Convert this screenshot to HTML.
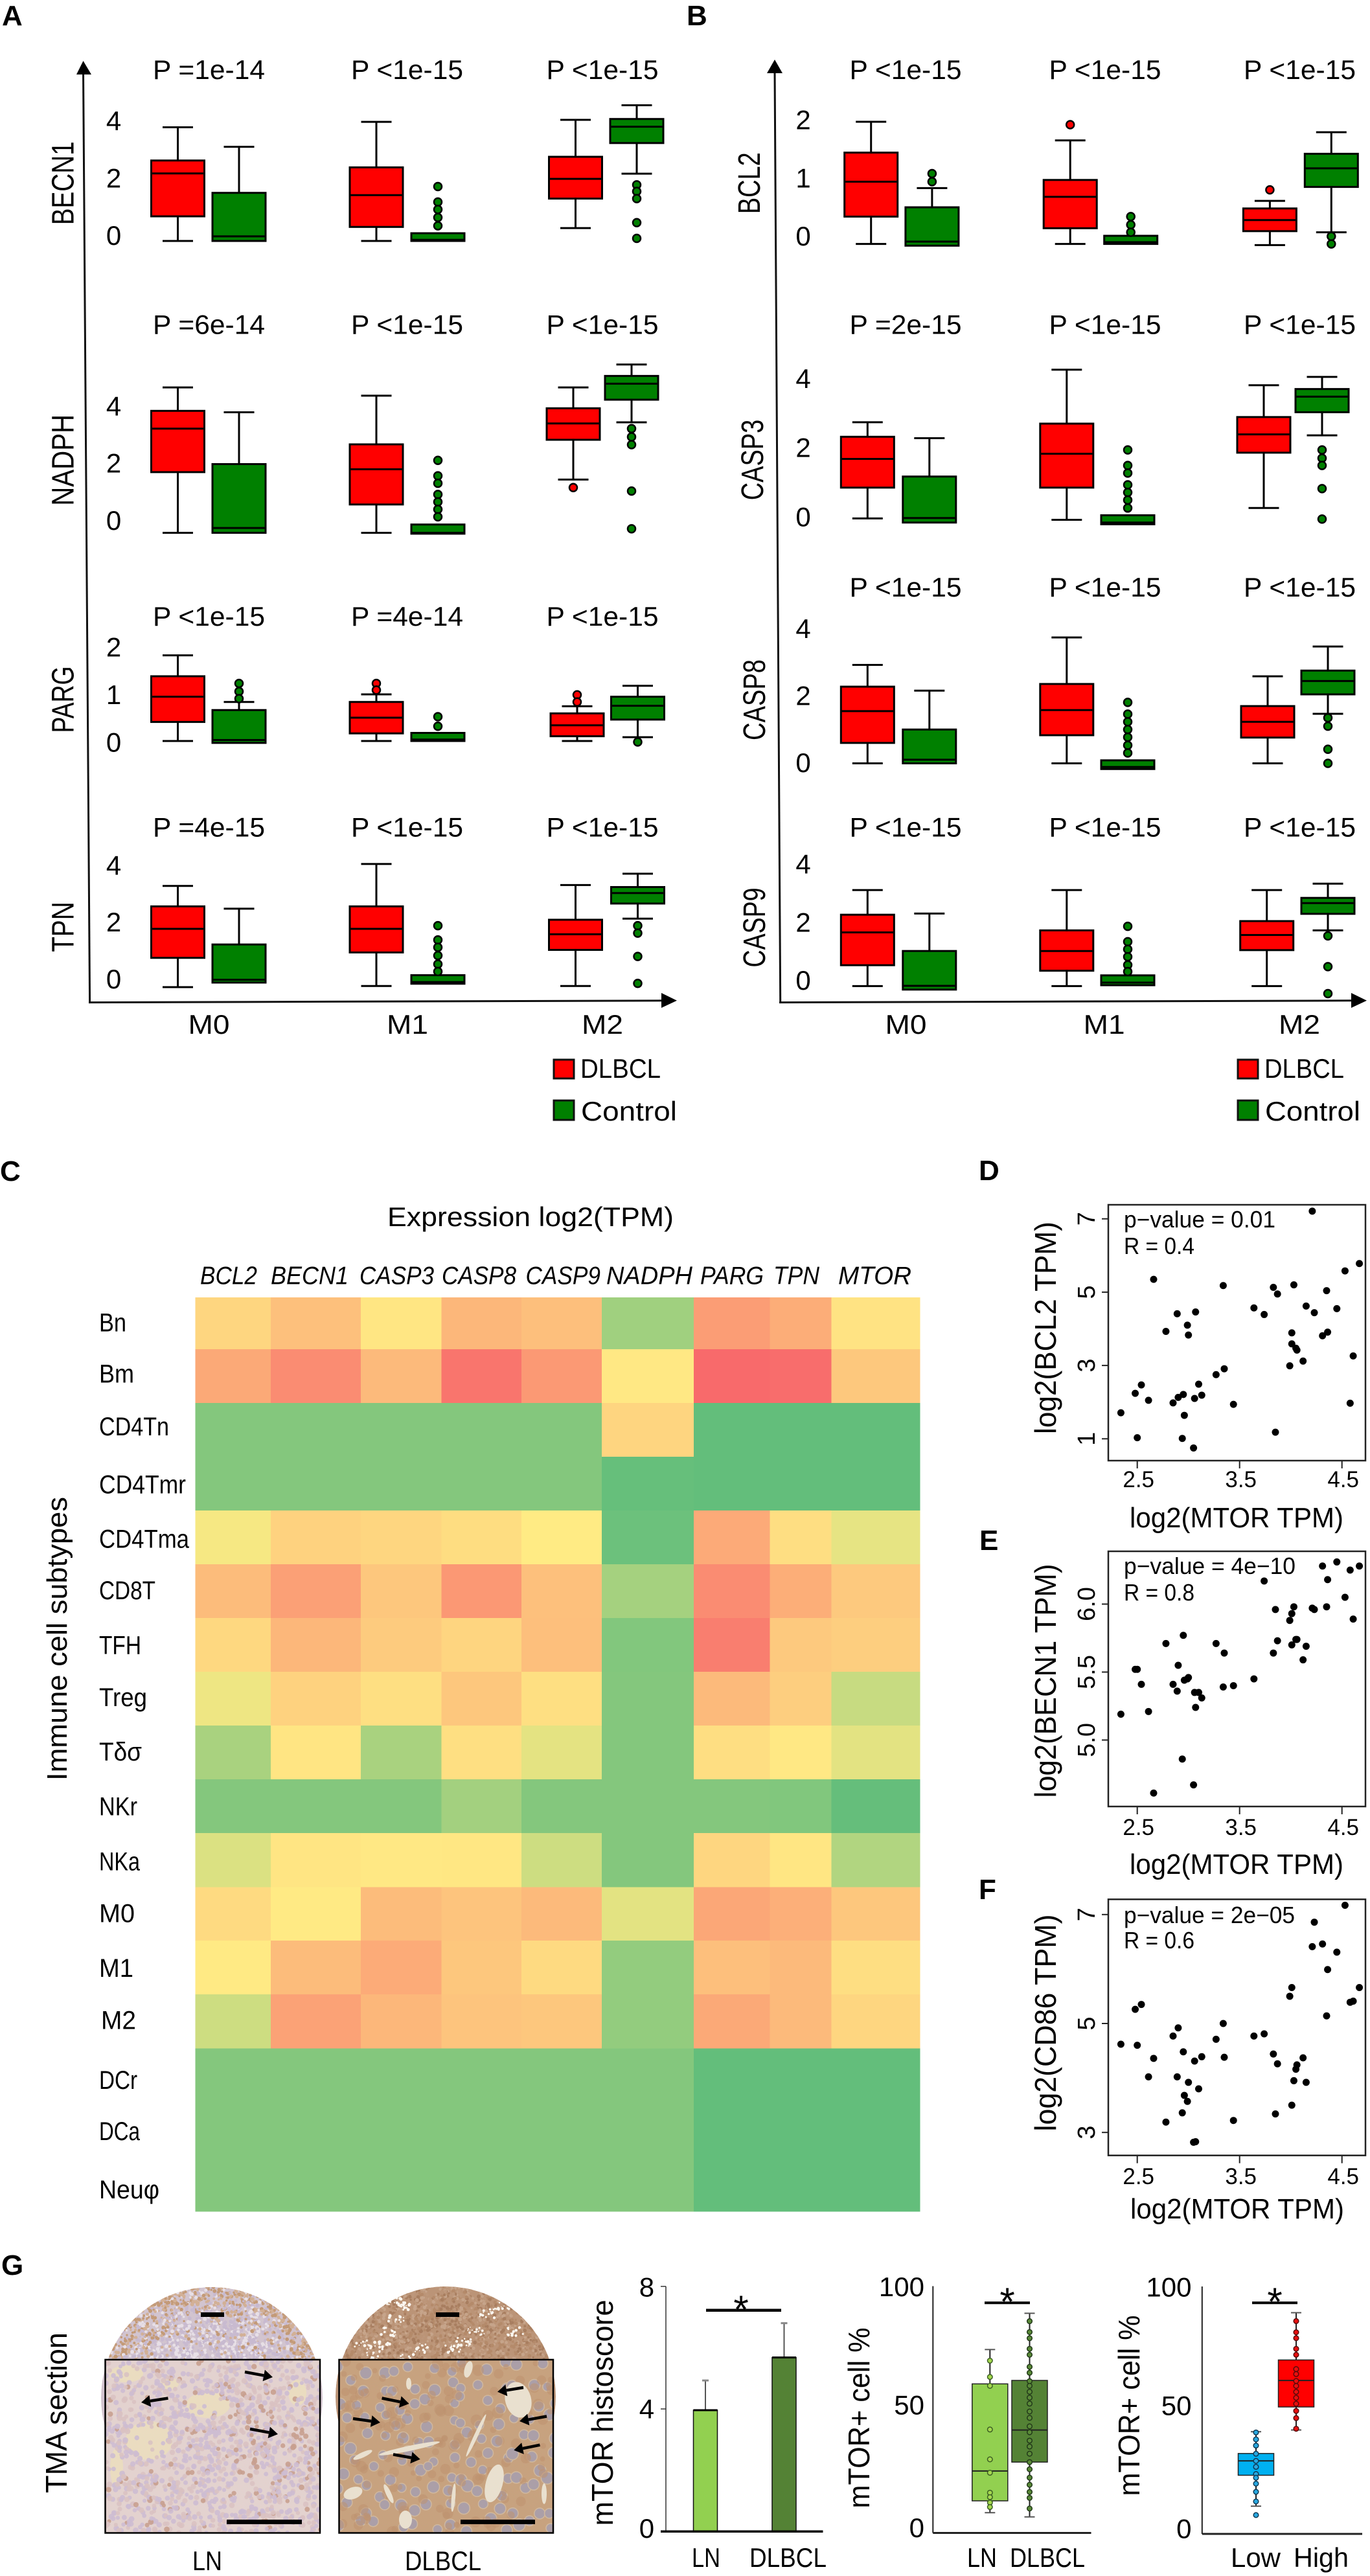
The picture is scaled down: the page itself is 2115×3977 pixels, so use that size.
<!DOCTYPE html>
<html lang="en">
<head>
<meta charset="utf-8">
<title>mTOR expression in DLBCL</title>
<style>
html,body{margin:0;padding:0;background:#fff}
svg{display:block;font-family:"Liberation Sans",sans-serif}
text{fill:#000}
</style>
</head>
<body>
<svg id="fig" xmlns="http://www.w3.org/2000/svg" width="2115" height="3977" viewBox="0 0 2115 3977">
<rect width="2115" height="3977" fill="#fff"/>
<g font-weight="bold" font-size="44">
<text x="3" y="39">A</text>
<text x="1060" y="39">B</text>
<text x="0" y="1823">C</text>
<text x="1511" y="1822">D</text>
<text x="1512" y="2393">E</text>
<text x="1511" y="2932">F</text>
<text x="2" y="3512">G</text>
</g>
<g>
<line x1="128.5" y1="110" x2="138.6" y2="1547.6" stroke="#111" stroke-width="3"/>
<polygon points="128.5,94 118,115 141,115" fill="#000"/>
<line x1="137" y1="1547.6" x2="1025" y2="1544.8" stroke="#111" stroke-width="3"/>
<polygon points="1045,1544.8 1021,1533 1021,1556" fill="#000"/>
</g>
<g>
<line x1="1196" y1="108" x2="1204.7" y2="1547.6" stroke="#111" stroke-width="3"/>
<polygon points="1196,92 1184,113 1208,113" fill="#000"/>
<line x1="1203" y1="1547.6" x2="2090" y2="1544.8" stroke="#111" stroke-width="3"/>
<polygon points="2110,1544.8 2086,1533 2086,1556" fill="#000"/>
</g>
<g>
<rect x="855" y="1636" width="31" height="29" fill="#f00" stroke="#111" stroke-width="3"/>
<text x="896" y="1664" font-size="42" textLength="124" lengthAdjust="spacingAndGlyphs">DLBCL</text>
<rect x="855" y="1699" width="31" height="30" fill="#008000" stroke="#111" stroke-width="3"/>
<text x="897" y="1730" font-size="42" textLength="148" lengthAdjust="spacingAndGlyphs">Control</text>
</g>
<g>
<rect x="1911" y="1636" width="31" height="29" fill="#f00" stroke="#111" stroke-width="3"/>
<text x="1952" y="1664" font-size="42" textLength="123" lengthAdjust="spacingAndGlyphs">DLBCL</text>
<rect x="1911" y="1699" width="31" height="30" fill="#008000" stroke="#111" stroke-width="3"/>
<text x="1953" y="1730" font-size="42" textLength="147" lengthAdjust="spacingAndGlyphs">Control</text>
</g>
<text x="598" y="1893" font-size="42" textLength="442" lengthAdjust="spacingAndGlyphs">Expression log2(TPM)</text>
<text transform="translate(103 2530) rotate(-90)" text-anchor="middle" font-size="44" textLength="438" lengthAdjust="spacingAndGlyphs">Immune cell subtypes</text>
<g>
<text x="1735" y="1895" font-size="36" textLength="234" lengthAdjust="spacingAndGlyphs">p−value = 0.01</text>
<text x="1735" y="1936" font-size="36" textLength="109" lengthAdjust="spacingAndGlyphs">R = 0.4</text>
<text x="1735" y="2430" font-size="36" textLength="265" lengthAdjust="spacingAndGlyphs">p−value = 4e−10</text>
<text x="1735" y="2471" font-size="36" textLength="109" lengthAdjust="spacingAndGlyphs">R = 0.8</text>
<text x="1735" y="2969" font-size="36" textLength="264" lengthAdjust="spacingAndGlyphs">p−value = 2e−05</text>
<text x="1735" y="3008" font-size="36" textLength="109" lengthAdjust="spacingAndGlyphs">R = 0.6</text>
<text x="1744" y="2358" font-size="44" textLength="330" lengthAdjust="spacingAndGlyphs">log2(MTOR TPM)</text>
<text x="1744" y="2893" font-size="44" textLength="330" lengthAdjust="spacingAndGlyphs">log2(MTOR TPM)</text>
<text x="1745" y="3425" font-size="44" textLength="330" lengthAdjust="spacingAndGlyphs">log2(MTOR TPM)</text>
<text transform="translate(1630 2050) rotate(-90)" text-anchor="middle" font-size="46" textLength="328" lengthAdjust="spacingAndGlyphs">log2(BCL2 TPM)</text>
<text transform="translate(1630 2595) rotate(-90)" text-anchor="middle" font-size="46" textLength="361" lengthAdjust="spacingAndGlyphs">log2(BECN1 TPM)</text>
<text transform="translate(1630 3123) rotate(-90)" text-anchor="middle" font-size="46" textLength="335" lengthAdjust="spacingAndGlyphs">log2(CD86 TPM)</text>
</g>
<g id="tma"></g>
<g>
<text transform="translate(103 3725) rotate(-90)" text-anchor="middle" font-size="46" textLength="248" lengthAdjust="spacingAndGlyphs">TMA section</text>
<text x="297" y="3968" font-size="42" textLength="46" lengthAdjust="spacingAndGlyphs">LN</text>
<text x="625" y="3968" font-size="42" textLength="118" lengthAdjust="spacingAndGlyphs">DLBCL</text>
<text transform="translate(946 3725) rotate(-90)" text-anchor="middle" font-size="46" textLength="349" lengthAdjust="spacingAndGlyphs">mTOR histoscore</text>
<text transform="translate(1342 3733) rotate(-90)" text-anchor="middle" font-size="46" textLength="279" lengthAdjust="spacingAndGlyphs">mTOR+ cell %</text>
<text transform="translate(1759 3714) rotate(-90)" text-anchor="middle" font-size="46" textLength="279" lengthAdjust="spacingAndGlyphs">mTOR+ cell %</text>
</g>
</svg>
<script>
/* ---------- Panels A / B box plot data: [min, q1, median, q3, max] per slot (M0 DLBCL, M0 Control, M1 DLBCL, M1 Control, M2 DLBCL, M2 Control) ---------- */
const boxGroups = ['M0','M1','M2'];
const boxSeries = ['DLBCL','Control'];

const statsBECN1 = [[0,.86,2.36,2.81,3.97],[0,0,.16,1.68,3.29],[0,.49,1.6,2.57,4.16],[0,0,.04,.27,.27],[.45,1.48,2.17,2.94,4.23],[2.35,3.42,3.99,4.26,4.74]];
const outliersBECN1 = [[],[],[],[1.9,1.36,1.1,.82,.53],[],[1.96,1.73,1.48,.64,.09]];
const ticksBECN1 = [0,2,4];
const pBECN1 = ['P =1e-14','P <1e-15','P <1e-15'];

const statsNADPH = [[0,2.12,3.64,4.26,5.08],[0,0,.17,2.4,4.21],[0,.99,2.22,3.09,4.79],[0,-.03,0,.29,.29],[1.86,3.25,3.82,4.35,5.08],[3.86,4.65,5.21,5.48,5.88]];
const outliersNADPH = [[],[],[],[2.53,1.99,1.73,1.34,1.08,.82,.56],[1.58],[3.64,3.35,3.08,1.46,.14]];
const ticksNADPH = [0,2,4];
const pNADPH = ['P =6e-14','P <1e-15','P <1e-15'];

const statsPARG = [[0,.4,.93,1.36,1.8],[-.04,-.04,.02,.65,.82],[0,.16,.49,.82,.98],[0,0,.03,.17,.17],[0,.1,.33,.58,.73],[.08,.45,.74,.93,1.16]];
const outliersPARG = [[],[1.21,1.04,.89],[1.21,1.07],[.51,.31],[.97,.82],[-.02]];
const ticksPARG = [0,1,2];
const pPARG = ['P <1e-15','P =4e-14','P <1e-15'];

const statsTPN = [[0,1.03,2.05,2.84,3.56],[.16,.16,.26,1.5,2.76],[.04,1.22,2.05,2.84,4.33],[.12,.12,.18,.42,.42],[.04,1.31,1.86,2.37,3.59],[2.41,2.94,3.31,3.52,3.99]];
const outliersTPN = [[],[],[],[2.16,1.66,1.4,1.11,.81,.55],[],[2.16,1.9,1.08,.13]];
const ticksTPN = [0,2,4];
const pTPN = ['P =4e-15','P <1e-15','P <1e-15'];

const statsBCL2 = [[0,.47,1.07,1.57,2.1],[-.03,-.03,.04,.63,.96],[0,.27,.81,1.1,1.78],[0,0,.03,.14,.14],[-.02,.22,.41,.61,.74],[.2,.98,1.3,1.55,1.92]];
const outliersBCL2 = [[],[1.21,1.07],[2.05],[.47,.33,.2],[.93],[.13,0]];
const ticksBCL2 = [0,1,2];
const pBCL2 = ['P <1e-15','P <1e-15','P <1e-15'];

const statsCASP3 = [[.02,.91,1.74,2.38,2.8],[-.1,-.1,.03,1.23,2.34],[-.02,.91,1.89,2.76,4.32],[-.15,-.15,-.1,.11,.11],[.32,1.92,2.45,2.95,3.87],[2.42,3.09,3.54,3.76,4.11]];
const outliersCASP3 = [[],[],[],[2,1.55,1.33,.99,.77,.55,.32],[],[2,1.76,1.55,.88,0]];
const ticksCASP3 = [0,2,4];
const pCASP3 = ['P =2e-15','P <1e-15','P <1e-15'];

const statsCASP8 = [[0,.61,1.56,2.29,2.94],[0,0,.11,1.01,2.17],[0,.84,1.59,2.37,3.76],[-.17,-.17,-.11,.09,.09],[0,.77,1.24,1.71,2.6],[1.48,2.06,2.46,2.77,3.49]];
const outliersCASP8 = [[],[],[],[1.82,1.47,1.24,1.01,.78,.54,.31],[],[1.36,1.11,.42,0]];
const ticksCASP8 = [0,2,4];
const pCASP8 = ['P <1e-15','P <1e-15','P <1e-15'];

const statsCASP9 = [[0,.72,1.85,2.46,3.31],[-.12,-.12,.01,1.21,2.5],[0,.53,1.21,1.92,3.31],[.03,.03,.12,.37,.37],[0,1.24,1.76,2.24,3.31],[1.92,2.49,2.86,3.04,3.53]];
const outliersCASP9 = [[],[],[],[2.06,1.53,1.27,1.01,.73,.5],[],[1.73,.67,-.26]];
const ticksCASP9 = [0,2,4];
const pCASP9 = ['P <1e-15','P <1e-15','P <1e-15'];

/* ---------- Panel C heatmap data (scaled expression, 0 = lowest, 1 = highest) ---------- */
const heatColumns = ['BCL2','BECN1','CASP3','CASP8','CASP9','NADPH','PARG','TPN','MTOR'];
const heatRows = ['Bn','Bm','CD4Tn','CD4Tmr','CD4Tma','CD8T','TFH','Treg','Tδσ','NKr','NKa','M0','M1','M2','DCr','DCa','Neuφ'];
const heatValues = [
 [.58,.665,.52,.70,.67,.195,.80,.74,.53],
 [.755,.865,.69,.955,.815,.51,.995,.985,.635],
 [.105,.105,.105,.105,.105,.585,0,0,0],
 [.105,.105,.105,.105,.105,.01,0,0,0],
 [.47,.595,.58,.555,.5,.03,.75,.55,.42],
 [.68,.79,.64,.82,.665,.21,.865,.735,.63],
 [.575,.70,.625,.585,.67,.10,.92,.63,.61],
 [.445,.595,.545,.64,.545,.105,.69,.61,.32],
 [.225,.525,.225,.545,.415,.105,.55,.51,.41],
 [.105,.105,.105,.205,.105,.105,.105,.095,.005],
 [.385,.525,.51,.515,.34,.105,.58,.52,.25],
 [.565,.505,.68,.65,.69,.41,.76,.73,.64],
 [.505,.68,.745,.64,.565,.155,.67,.69,.55],
 [.34,.78,.70,.65,.64,.155,.755,.69,.58],
 [.105,.105,.105,.105,.105,.105,0,0,0],
 [.105,.105,.105,.105,.105,.105,0,0,0],
 [.105,.105,.105,.105,.105,.105,0,0,0]
];

/* ---------- Panels D-F scatter data ---------- */
const mtorX = [2.34,2.48,2.50,2.54,2.61,2.66,2.78,2.85,2.89,2.90,2.94,2.95,2.96,2.99,3.00,3.05,3.06,3.07,3.10,3.13,3.27,3.34,3.35,3.44,3.64,3.74,3.83,3.85,3.87,3.99,4.01,4.01,4.03,4.05,4.06,4.12,4.15,4.23,4.31,4.35,4.36,4.45,4.53,4.58,4.61,4.67,4.21];
const bcl2Y = [1.71,2.24,1.03,2.47,2.05,5.35,3.93,1.98,4.41,2.13,1.01,2.21,1.64,4.10,3.83,.75,2.10,4.46,2.49,2.19,2.75,5.18,2.91,1.94,4.57,4.39,5.13,1.18,4.95,2.99,3.59,3.89,5.20,3.47,3.42,3.12,4.62,4.44,3.81,5.04,3.91,4.55,5.58,1.97,3.26,5.78,7.21];
const becn1Y = [5.19,5.52,5.52,5.41,5.21,4.61,5.71,5.41,5.36,5.55,4.86,5.77,5.44,5.45,5.46,4.67,5.35,5.24,5.35,5.31,5.71,5.39,5.64,5.40,5.45,6.17,5.64,5.96,5.73,5.88,5.93,5.70,5.98,5.74,5.74,5.59,5.69,5.96,6.28,5.98,6.18,6.31,6.05,6.25,5.89,6.28,5.97];
const cd86Y = [4.62,5.26,4.60,5.35,4.02,4.36,3.19,4.77,4.02,4.92,3.36,4.48,3.68,3.57,3.92,2.82,4.31,2.83,3.80,4.39,4.71,5.00,4.38,3.22,4.77,4.81,4.44,3.34,4.26,5.50,3.50,5.66,3.95,4.16,4.24,4.37,3.92,6.86,6.46,5.14,5.99,6.31,7.17,5.39,5.41,5.66,6.41];
const scatterXTicks = [2.5,3.5,4.5];
const bcl2Ticks = [1,3,5,7];
const becn1Ticks = [5.0,5.5,6.0];
const cd86Ticks = [3,5,7];

/* ---------- Panel G chart data ---------- */
const histoCats = ['LN','DLBCL'];
const histoMeans = [3.96,5.68];
const histoErrTop = [4.93,6.80];
const histoTicks = [0,4,8];
const pctTicks = [0,50,100];
const lnCats = ['LN','DLBCL'];
const lnStats = [[8.2,13,25.1,60.4,74.3],[6.5,28.7,41.7,61.8,89]];
const lnPoints = [69.8,63.2,59.6,41.9,29.8,24.4,16.3,14.5,12.3,10.5];
const dlbclPoints = [85.8,81.4,78.9,74.6,72.2,67.3,64.9,61.5,59.6,57.2,54.8,52.4,49.2,46.6,43.2,40.8,37.4,35,32.1,28.7,25.8,22.4,19.5,16.6,14.2,9.9];
const riskCats = ['Low','High'];
const riskStats = [[11.2,23.7,29.5,32.5,41.3],[42,51.3,62,70.3,89.4]];
const lowPoints = [41,38.2,35.7,32.4,29.5,27.1,24.2,22.7,20.3,17,13.1,7.6];
const highPoints = [86,81.5,79.1,74.8,72.4,66.6,64.6,61.8,59.8,57.4,55,52.6,49.7,46.8,42.5];

/* ---------- Helpers ---------- */
const NS = 'http://www.w3.org/2000/svg';
const svg = document.getElementById('fig');
function mk(tag, attrs, parent) {
  const el = document.createElementNS(NS, tag);
  for (const k in attrs) el.setAttribute(k, attrs[k]);
  (parent || svg).appendChild(el);
  return el;
}
function tag(el, name) {
  
  
  return el;
}
function group(name, parent) {
  return tag(mk('g', {}, parent), name);
}
function label(str, x, y, size, o, name, parent) {
  o = o || {};
  const a = {'font-size': size};
  if (o.rot) { a.transform = 'translate(' + x + ' ' + y + ') rotate(-90)'; } else { a.x = x; a.y = y; }
  a['text-anchor'] = o.anchor || 'middle';
  if (o.len) { a.textLength = o.len; a.lengthAdjust = 'spacingAndGlyphs'; }
  if (o.italic) a['font-style'] = 'italic';
  const el = mk('text', a, parent);
  el.textContent = str;
  return tag(el, name);
}
function slug(s) { return String(s).toLowerCase().replace(/[^a-z0-9]+/g, '-'); }

/* ---------- Box panels A / B ---------- */
const SER_FILL = ['#ff0000', '#008000'];
const BOX_W = 82, CAP_W = 47;

function drawBoxRow(gene, stats, outs, ticks, pvals, L, P) {
  const g = group('box-row-' + slug(gene));
  const y = v => L.y0 - L.k * v;
  label(gene, P.nameX[L.i], L.nameY, 48, {rot: true, len: L.nameLen}, 'y-label-' + slug(gene), g);
  ticks.forEach(t => {
    label(String(t), P.tickX, y(t) + L.off + 14.5, 42, {}, 'y-tick-' + slug(gene) + '-' + t, g);
  });
  pvals.forEach((p, i) => {
    label(p, P.pX[i], L.pBase, 42, {len: 173}, 'p-value-' + slug(gene) + '-' + boxGroups[i].toLowerCase(), g);
  });
  stats.forEach((s, i) => {
    const cx = L.slots[i];
    const ser = boxSeries[i % 2], grp = boxGroups[Math.floor(i / 2)];
    const b = group('box-' + slug(gene) + '-' + grp.toLowerCase() + '-' + ser.toLowerCase(), g);
    const st = {stroke: '#000', 'stroke-width': 3};
    if (s[4] > s[3]) {
      mk('line', Object.assign({x1: cx, x2: cx, y1: y(s[4]), y2: y(s[3])}, st), b);
      mk('line', Object.assign({x1: cx - CAP_W / 2, x2: cx + CAP_W / 2, y1: y(s[4]), y2: y(s[4])}, st), b);
    }
    if (s[0] < s[1]) {
      mk('line', Object.assign({x1: cx, x2: cx, y1: y(s[1]), y2: y(s[0])}, st), b);
      mk('line', Object.assign({x1: cx - CAP_W / 2, x2: cx + CAP_W / 2, y1: y(s[0]), y2: y(s[0])}, st), b);
    }
    mk('rect', Object.assign({x: cx - BOX_W / 2, y: y(s[3]), width: BOX_W, height: Math.max(1, y(s[1]) - y(s[3])), fill: SER_FILL[i % 2]}, st), b);
    mk('line', Object.assign({x1: cx - BOX_W / 2, x2: cx + BOX_W / 2, y1: y(s[2]), y2: y(s[2])}, st), b);
    outs[i].forEach(v => {
      mk('circle', {cx: cx, cy: y(v), r: 6, fill: SER_FILL[i % 2], stroke: '#000', 'stroke-width': 2.5}, b);
    });
  });
}

const panelA = {tickX: 175.5, nameX: [113.6, 113.6, 113.6, 113.6], pX: [322.5, 628.5, 930]};
const panelB = {tickX: 1240, nameX: [1173, 1178, 1181, 1181], pX: [1398, 1706, 2006.5]};

drawBoxRow('BECN1', statsBECN1, outliersBECN1, ticksBECN1, pBECN1, {i:0, y0:372, k:44.2, off:-8.6, pBase:122, nameY:282.8, nameLen:129, slots:[274.5,369,581,676,888.5,983]}, panelA);
drawBoxRow('NADPH', statsNADPH, outliersNADPH, ticksNADPH, pNADPH, {i:1, y0:822.6, k:44.2, off:-19, pBase:515.5, nameY:710.3, nameLen:141, slots:[274.5,369,581,676,885,975]}, panelA);
drawBoxRow('PARG', statsPARG, outliersPARG, ticksPARG, pPARG, {i:2, y0:1144, k:73.5, off:2, pBase:966, nameY:1080, nameLen:103, slots:[274.5,369,581,676,891,984.5]}, panelA);
drawBoxRow('TPN', statsTPN, outliersTPN, ticksTPN, pTPN, {i:3, y0:1524, k:43.9, off:-12.6, pBase:1291.6, nameY:1431, nameLen:77.5, slots:[274.5,369,581,676,888.5,984.5]}, panelA);

drawBoxRow('BCL2', statsBCL2, outliersBCL2, ticksBCL2, pBCL2, {i:0, y0:376.6, k:89.8, off:-12, pBase:122, nameY:282.7, nameLen:95, slots:[1344.7,1438.9,1652.2,1745.7,1960.4,2055.3]}, panelB);
drawBoxRow('CASP3', statsCASP3, outliersCASP3, ticksCASP3, pCASP3, {i:1, y0:801.4, k:53.4, off:-3.4, pBase:515.5, nameY:710, nameLen:124.6, slots:[1339.3,1434.8,1646.8,1741,1951,2041]}, panelB);
drawBoxRow('CASP8', statsCASP8, outliersCASP8, ticksCASP8, pCASP8, {i:2, y0:1178.5, k:51.7, off:-1, pBase:921, nameY:1080.5, nameLen:125, slots:[1339.3,1434.8,1646.8,1741,1957,2050]}, panelB);
drawBoxRow('CASP9', statsCASP9, outliersCASP9, ticksCASP9, pCASP9, {i:3, y0:1522.4, k:44.8, off:-9, pBase:1291.6, nameY:1432, nameLen:123, slots:[1339.3,1434.8,1646.8,1741,1955.7,2050]}, panelB);

const xLabelGroup = group('box-x-labels');
[322.5, 629, 930].forEach((x, i) => {
  label(boxGroups[i], x, 1596, 42, {len: 64}, 'x-label-a-' + boxGroups[i].toLowerCase(), xLabelGroup);
});
[1398.5, 1704.7, 2006].forEach((x, i) => {
  label(boxGroups[i], x, 1596, 42, {len: 64}, 'x-label-b-' + boxGroups[i].toLowerCase(), xLabelGroup);
});

/* ---------- Panel C heatmap ---------- */
const heatXEdges = [301.4,418.2,556.9,681.3,804.8,929.2,1070.8,1188.5,1283.3,1420.1];
const heatYEdges = [2003,2083,2166.2,2248.9,2332,2415.2,2497.9,2580.8,2664.2,2747,2829.9,2913.3,2996,3079,3162.3,3245,3325,3414];
const heatColLabelLeft = [309,418,555,682,811.5,936,1081,1194,1294];
const heatColLabelLen = [88,120,115,115,115.5,133,98,71,113];
const heatRowBase = [2055.5,2134.6,2216,2305.5,2389.7,2468.8,2553.5,2634,2718,2802.5,2887.5,2967.6,3052,3132.7,3224.8,3304,3393.8];
const heatRowLen = [42,54,108,134,139,87,65,74,66,59,63,55,53,54,59,63,93];
function heatColor(v) {
  const lerp = (a, b, t) => Math.round(a + (b - a) * t);
  const G = [99,190,123], Y = [255,235,132], R = [248,105,107];
  const A = v < .5 ? G : Y, B = v < .5 ? Y : R, t = v < .5 ? v * 2 : (v - .5) * 2;
  return 'rgb(' + lerp(A[0],B[0],t) + ',' + lerp(A[1],B[1],t) + ',' + lerp(A[2],B[2],t) + ')';
}
const heatG = group('expression-heatmap');
heatValues.forEach((row, r) => {
  row.forEach((v, c) => {
    const cell = mk('rect', {x: heatXEdges[c], y: heatYEdges[r], width: heatXEdges[c+1] - heatXEdges[c] + .4, height: heatYEdges[r+1] - heatYEdges[r] + .4, fill: heatColor(v), 'shape-rendering': 'crispEdges'}, heatG);
    tag(cell, 'heat-cell-' + slug(heatRows[r]) + '-' + slug(heatColumns[c]));
  });
});
heatColumns.forEach((n, i) => {
  label(n, heatColLabelLeft[i], 1982.6, 39, {anchor: 'start', italic: true, len: heatColLabelLen[i]}, 'heat-column-' + slug(n), heatG);
});
heatRows.forEach((n, i) => {
  label(n, n === 'M2' ? 156 : 153, heatRowBase[i], 40, {anchor: 'start', len: heatRowLen[i]}, 'heat-row-' + slug(n), heatG);
});

/* ---------- Panels D-F scatter ---------- */
function drawScatter(id, yVals, yTicks, F) {
  const g = group('scatter-' + id);
  const x = v => 1755.7 + (v - 2.5) * 158;
  const y = v => F.yRef + (F.vRef - v) * F.k;
  mk('rect', {x: 1711, y: F.top, width: 397, height: F.bottom - F.top, fill: 'none', stroke: '#222', 'stroke-width': 2.5}, g);
  scatterXTicks.forEach((t, i) => {
    mk('line', {x1: x(t), x2: x(t), y1: F.bottom, y2: F.bottom + 12, stroke: '#222', 'stroke-width': 2}, g);
    label(t.toFixed(1), x(t) + 2, F.xBase, 35, {}, 'scatter-' + id + '-x-tick-' + i, g);
  });
  yTicks.forEach((t, i) => {
    mk('line', {x1: 1701, x2: 1711, y1: y(t), y2: y(t), stroke: '#222', 'stroke-width': 2}, g);
    label(F.dec ? t.toFixed(1) : String(t), 1690, y(t), 38, {rot: true}, 'scatter-' + id + '-y-tick-' + i, g);
  });
  mtorX.forEach((v, i) => {
    mk('circle', {cx: x(v), cy: y(yVals[i]), r: 5.5, fill: '#000'}, g);
  });
}
drawScatter('d', bcl2Y, bcl2Ticks, {top: 1860, bottom: 2255, yRef: 2221.3, vRef: 1, k: 56.6, xBase: 2296, dec: false});
drawScatter('e', becn1Y, becn1Ticks, {top: 2395, bottom: 2789, yRef: 2686.4, vRef: 5, k: 209.9, xBase: 2833, dec: true});
drawScatter('f', cd86Y, cd86Ticks, {top: 2932.3, bottom: 3327.7, yRef: 3292.2, vRef: 3, k: 84.1, xBase: 3372, dec: false});

/* ---------- Panel G IHC illustrations (decorative texture) ---------- */
function rng(seed) { let s = seed; return () => (s = (s * 16807) % 2147483647) / 2147483647; }
const tma = document.getElementById('tma');
const defs = mk('defs', {}, tma);
function clipRect(id, x, y, w, h) { const c = mk('clipPath', {id: id}, defs); mk('rect', {x: x, y: y, width: w, height: h}, c); }
function clipCircle(id, cx, cy, r) { const c = mk('clipPath', {id: id}, defs); mk('circle', {cx: cx, cy: cy, r: r}, c); }
clipRect('ln-clip', 162.5, 3643, 331.5, 267.5);
clipRect('dl-clip', 523.5, 3643, 330.5, 267.5);
clipCircle('ln-core', 327, 3702, 171);
clipCircle('dl-core', 688, 3700, 170);

/* LN core: lilac centre fading to a tan rim */
(function () {
  const g = group('tma-core-ln', tma);
  g.setAttribute('clip-path', 'url(#ln-core)');
  mk('circle', {cx: 327, cy: 3702, r: 171, fill: '#d2c4cf'}, g);
  const R = rng(7);
  for (let n = 0; n < 2600; n++) {
    const x = 156 + R() * 342, y = 3531 + R() * 122;
    const d = Math.hypot(x - 327, y - 3702) / 171;
    const q = R();
    const tanChance = d > .86 ? .75 : (d > .72 ? .38 : .1);
    const col = q < tanChance ? (R() < .5 ? '#c39a78' : '#d2b096') : (R() < .6 ? '#c8bad0' : '#e7dfe6');
    mk('circle', {cx: x, cy: y, r: 1.6 + R() * 1.5, fill: col}, g);
  }
})();

/* DLBCL core: brown stain with fine white gaps */
(function () {
  const g = group('tma-core-dlbcl', tma);
  g.setAttribute('clip-path', 'url(#dl-core)');
  mk('circle', {cx: 688, cy: 3700, r: 170, fill: '#bb9477'}, g);
  const R = rng(11);
  for (let n = 0; n < 2400; n++) {
    const x = 518 + R() * 340, y = 3530 + R() * 122;
    const col = ['#b48a6a','#a87e60','#c6a48a','#bd977b'][Math.floor(R() * 4)];
    mk('circle', {cx: x, cy: y, r: 1.6 + R() * 1.4, fill: col}, g);
  }
  const gaps = [[625,3562],[612,3582],[600,3600],[590,3622],[575,3636],[700,3628],[715,3616],[735,3600],[752,3572],[775,3560],[795,3600],[648,3625],[630,3640],[560,3620],[610,3552]];
  gaps.forEach(p => {
    for (let i = 0; i < 14; i++) {
      mk('circle', {cx: p[0] + (R() - .5) * 26, cy: p[1] + (R() - .5) * 14, r: .8 + R() * 1.7, fill: '#faf6ef'}, g);
    }
  });
})();

function inset(name, clip, x, y, w, h, base, draw) {
  const g = group(name, tma);
  const c = mk('g', {'clip-path': 'url(#' + clip + ')'}, g);
  mk('rect', {x: x, y: y, width: w, height: h, fill: base}, c);
  draw(c);
  return g;
}

const lnInset = inset('tma-inset-ln', 'ln-clip', 162.5, 3643, 331.5, 267.5, '#e3d2cf', c => {
  const patches = [[230,3768,36,30],[321,3713,34,20],[459,3694,14,20],[195,3665,26,13],[262,3680,14,9],[180,3810,10,30]];
  patches.forEach(p => mk('ellipse', {cx: p[0], cy: p[1], rx: p[2], ry: p[3], fill: '#eadcc0'}, c));
  const R = rng(23);
  for (let n = 0; n < 1500; n++) {
    const px = 163 + R() * 331, py = 3643 + R() * 268;
    const inPatch = patches.some(p => ((px - p[0]) / p[2]) ** 2 + ((py - p[1]) / p[3]) ** 2 < .7);
    if (inPatch && R() < .8) continue;
    const q = R();
    const brownish = px > 350 && py > 3680;
    const col = q < (brownish ? .2 : .07) ? '#c8a08f' : (q < .68 ? '#cdbcd2' : '#d9c2c2');
    mk('circle', {cx: px, cy: py, r: 3 + R() * 1.4, fill: col, opacity: .9}, c);
  }
});

const dlInset = inset('tma-inset-dlbcl', 'dl-clip', 523.5, 3643, 330.5, 267.5, '#c7a27f', c => {
  const R = rng(41);
  for (let y = 3645; y < 3915; y += 27) {
    for (let x = 520; x < 860; x += 27) {
      const px = x + R() * 22, py = y + R() * 22;
      mk('circle', {cx: px, cy: py, r: 7 + R() * 2.5, fill: '#ab9fa8', stroke: '#d0b89e', 'stroke-width': 1.5}, c);
    }
  }
  for (let n = 0; n < 160; n++) {
    mk('circle', {cx: 524 + R() * 330, cy: 3643 + R() * 268, r: 4 + R() * 5, fill: '#bd9270', opacity: .55}, c);
  }
  [[800,3705,20,28,-15],[763,3834,13,30,15],[632,3780,48,4,-12],[545,3849,15,9,-20],[626,3890,10,14,0],[723,3658,6,13,15],[631,3680,4,9,0],[700,3856,3,22,5],[735,3760,3,36,25],[560,3790,16,4,-25],[840,3850,4,16,0],[600,3850,4,16,-25]].forEach(e => {
    mk('ellipse', {cx: e[0], cy: e[1], rx: e[2], ry: e[3], fill: '#e9e0cf', transform: 'rotate(' + e[4] + ' ' + e[0] + ' ' + e[1] + ')'}, c);
  });
});

function arrow(parent, x1, y1, x2, y2, name) {
  const a = tag(mk('g', {}, parent), name);
  const dx = x2 - x1, dy = y2 - y1, L = Math.hypot(dx, dy), ux = dx / L, uy = dy / L;
  const hx = x2 - ux * 14, hy = y2 - uy * 14;
  mk('line', {x1: x1, y1: y1, x2: hx, y2: hy, stroke: '#000', 'stroke-width': 4.5}, a);
  mk('polygon', {points: x2 + ',' + y2 + ' ' + (hx - uy * 9) + ',' + (hy + ux * 9) + ' ' + (hx + uy * 9) + ',' + (hy - ux * 9), fill: '#000'}, a);
}
[[378,3662,421,3670],[259.5,3702.5,218,3709],[386,3750,429,3758]].forEach((a, i) => arrow(lnInset, a[0], a[1], a[2], a[3], 'ln-arrow-' + i));
[[808,3686,768,3692.6],[589.6,3702.5,631.5,3711],[844,3730.5,802,3738],[545,3734,587,3740],[833.5,3774.7,793.3,3782.8],[607,3789.4,648.7,3796.8]].forEach((a, i) => arrow(dlInset, a[0], a[1], a[2], a[3], 'dlbcl-arrow-' + i));
mk('rect', {x: 162.5, y: 3643, width: 331.5, height: 267.5, fill: 'none', stroke: '#000', 'stroke-width': 2.5}, lnInset);
mk('rect', {x: 523.5, y: 3643, width: 330.5, height: 267.5, fill: 'none', stroke: '#000', 'stroke-width': 2.5}, dlInset);
[[310,3570,36,7],[673,3570,36,7],[350,3890,116,7],[711,3890,115,7]].forEach((b, i) => {
  tag(mk('rect', {x: b[0], y: b[1], width: b[2], height: b[3], fill: '#000'}, tma), 'scale-bar-' + i);
});

/* ---------- Panel G bar chart ---------- */
const barG = group('histoscore-bar-chart');
const barY = v => 3908.3 - v * 47.3;
const barX = [1089, 1210.5];
const barNudge = [-5, 0, 1];
mk('line', {x1: 1028, x2: 1028, y1: barY(8), y2: barY(0), stroke: '#333', 'stroke-width': 1.5}, barG);
histoTicks.forEach((t, i) => {
  mk('line', {x1: 1020, x2: 1028, y1: barY(t), y2: barY(t), stroke: '#333', 'stroke-width': 1.5}, barG);
  label(String(t), 998.4, barY(t) + barNudge[i] + 14.5, 42, {}, 'histoscore-y-tick-' + t, barG);
});
histoMeans.forEach((m, i) => {
  const cx = barX[i];
  const er = histoErrTop[i];
  mk('line', {x1: cx, x2: cx, y1: barY(er), y2: barY(m), stroke: '#555', 'stroke-width': 2}, barG);
  mk('line', {x1: cx - 5, x2: cx + 5, y1: barY(er), y2: barY(er), stroke: '#888', 'stroke-width': 3}, barG);
  const r = mk('rect', {x: cx - 18.5, y: barY(m), width: 37, height: barY(0) - barY(m), fill: i ? '#548235' : '#92d050', stroke: '#111', 'stroke-width': 1.5}, barG);
  tag(r, 'histoscore-bar-' + slug(histoCats[i]));
  mk('line', {x1: cx - 18.5, x2: cx + 18.5, y1: barY(m), y2: barY(m), stroke: '#000', 'stroke-width': 3}, barG);
});
mk('line', {x1: 1020, x2: 1270.5, y1: barY(0), y2: barY(0), stroke: '#000', 'stroke-width': 3.5}, barG);
mk('line', {x1: 1090, x2: 1206, y1: 3566.7, y2: 3566.7, stroke: '#000', 'stroke-width': 4.5}, barG);
label('*', 1144, 3586, 60, {}, 'histoscore-significance', barG);
label(histoCats[0], 1090, 3963, 42, {len: 44}, 'histoscore-x-label-ln', barG);
label(histoCats[1], 1216.5, 3963, 42, {len: 119}, 'histoscore-x-label-dlbcl', barG);

/* ---------- Panel G dotted box charts ---------- */
function drawDotBox(name, C, cats, stats, pts, fills, dotFills, dotStroke) {
  const g = group(name);
  const y = v => C.y0 - v * C.k;
  mk('line', {x1: C.axisX, x2: C.axisX, y1: y(100), y2: y(0), stroke: '#222', 'stroke-width': 2}, g);
  mk('line', {x1: C.axisX, x2: C.axisEnd, y1: y(0), y2: y(0), stroke: '#222', 'stroke-width': 3}, g);
  pctTicks.forEach((t, i) => {
    label(String(t), C.tickRight, y(t) + C.nudge[i] + 14.5, 42, {anchor: 'end'}, name + '-y-tick-' + t, g);
  });
  stats.forEach((s, i) => {
    const cx = C.cx[i], b = group(name + '-box-' + slug(cats[i]), g);
    mk('line', {x1: cx, x2: cx, y1: y(s[4]), y2: y(s[0]), stroke: '#222', 'stroke-width': 2}, b);
    mk('line', {x1: cx - 8, x2: cx + 8, y1: y(s[4]), y2: y(s[4]), stroke: '#555', 'stroke-width': 2}, b);
    mk('line', {x1: cx - 8, x2: cx + 8, y1: y(s[0]), y2: y(s[0]), stroke: '#555', 'stroke-width': 2}, b);
    mk('rect', {x: cx - 27.5, y: y(s[3]), width: 55, height: y(s[1]) - y(s[3]), fill: fills[i], stroke: '#222', 'stroke-width': 1.5}, b);
    mk('line', {x1: cx - 27.5, x2: cx + 27.5, y1: y(s[2]), y2: y(s[2]), stroke: '#222', 'stroke-width': 2}, b);
    pts[i].forEach(v => {
      mk('circle', {cx: cx, cy: y(v), r: 3.8, fill: dotFills[i], stroke: dotStroke[i], 'stroke-width': 1.5}, b);
    });
  });
  mk('line', {x1: C.sig[0], x2: C.sig[1], y1: 3555.3, y2: 3555.3, stroke: '#000', 'stroke-width': 4}, g);
  label('*', (C.sig[0] + C.sig[1]) / 2, 3574, 60, {}, name + '-significance', g);
  cats.forEach((c, i) => {
    label(c, C.labelX[i], 3963, 42, {len: C.labelLen[i]}, name + '-x-label-' + slug(c), g);
  });
}
drawDotBox('percent-ln', {y0: 3910.5, k: 3.81, axisX: 1440.3, axisEnd: 1684.5, tickRight: 1427, nudge: [-8, -7, 1], cx: [1528.3, 1589.5], sig: [1520, 1590], labelX: [1516, 1617], labelLen: [46, 116]},
  lnCats, lnStats, [lnPoints, dlbclPoints], ['#92d050', '#548235'], ['#a5d94f', '#5a8a38'], ['#3c5f24', '#22391a']);
drawDotBox('percent-risk', {y0: 3912, k: 3.82, axisX: 1855.8, axisEnd: 2103, tickRight: 1839.5, nudge: [-8, -7, 1], cx: [1939, 2001], sig: [1933, 2003], labelX: [1938.5, 2039.5], labelLen: [77, 85]},
  riskCats, riskStats, [lowPoints, highPoints], ['#00b0f0', '#ff0000'], ['#28a8e0', '#e81010'], ['#103a55', '#5a0a0a']);
</script>
</body>
</html>
